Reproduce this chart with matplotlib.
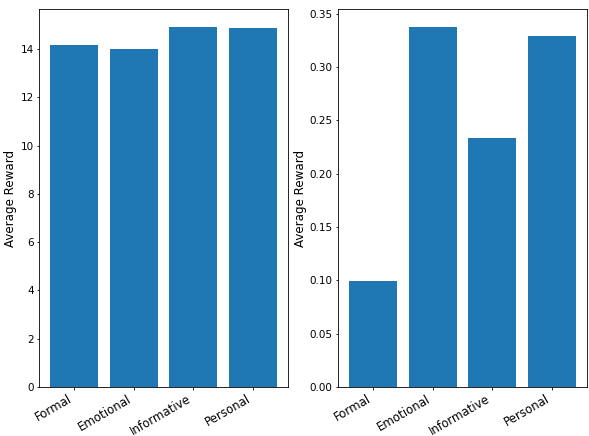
import matplotlib
matplotlib.use("Agg")
import matplotlib.pyplot as plt

categories = ["Formal", "Emotional", "Informative", "Personal"]
left_values = [14.18, 14.00, 14.92, 14.88]
right_values = [0.0997, 0.3374, 0.2330, 0.3288]

W, H = 589, 436
fig = plt.figure(figsize=(W / 100, H / 100), dpi=100)
ax1 = fig.add_axes([39 / W, 1 - 387 / H, (288 - 39) / W, (387 - 9) / H])
ax2 = fig.add_axes([338 / W, 1 - 387 / H, (587 - 338) / W, (387 - 9) / H])

for ax, vals in [(ax1, left_values), (ax2, right_values)]:
    ax.bar(categories, vals, color="#1f77b4")
    ax.set_ylabel("Average Reward", fontsize=8.6, labelpad=2.2)
    ax.tick_params(axis="both", labelsize=7.5, length=1.8, width=0.6, pad=2.0)
    for s in ax.spines.values():
        s.set_linewidth(0.6)
    plt.setp(ax.get_xticklabels(), rotation=30, ha="right", fontsize=8.5)

fig.savefig("out.png", dpi=100)
